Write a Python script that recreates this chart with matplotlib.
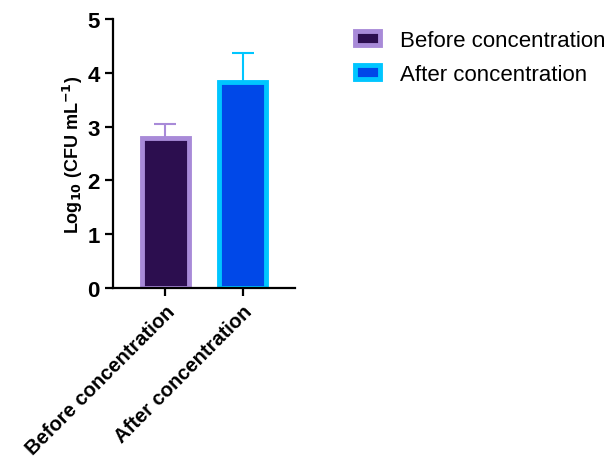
import matplotlib.pyplot as plt
import numpy as np

plt.rcParams['font.family'] = ['Liberation Sans', 'DejaVu Sans']

groups = ['Before concentration', 'After concentration']
means = [2.78, 3.83]
errs = [0.26, 0.53]
faces = ['#2c0e4f', '#0048e8']
edges = ['#a88ad8', '#00c6ff']

fig = plt.figure(figsize=(6.07, 4.64), dpi=100)
ax = fig.add_axes([0.186, 0.377, 0.30, 0.58])

x = np.arange(len(groups))
for i in range(len(groups)):
    ax.errorbar(x[i], means[i], yerr=[[0], [errs[i]]], color=edges[i],
                capsize=8, elinewidth=1.5, capthick=1.5, zorder=1)
    ax.bar(x[i], means[i], width=0.60, color=faces[i], edgecolor=edges[i],
           linewidth=3.5, label=groups[i], zorder=2)

ax.set_xlim(-0.68, 1.68)
ax.set_ylim(0, 5)
ax.set_yticks([0, 1, 2, 3, 4, 5])
ax.set_xticks(x)
ax.set_xticklabels(groups, rotation=45, ha='right', rotation_mode='anchor',
                   fontsize=14.5, fontweight='bold')
for lab in ax.get_yticklabels():
    lab.set_fontsize(16)
    lab.set_fontweight('bold')
ax.set_ylabel('Log$_{\\mathbf{10}}$ (CFU mL$^{\\mathbf{-1}}$)', fontsize=13,
              fontweight='bold', labelpad=2)
for s in ['top', 'right']:
    ax.spines[s].set_visible(False)
for s in ['left', 'bottom']:
    ax.spines[s].set_linewidth(1.6)
ax.tick_params(width=1.6, length=6)

ax.legend(loc='upper left', bbox_to_anchor=(1.33, 0.96), frameon=False,
          fontsize=16, handlelength=1.1, handleheight=0.55, labelspacing=0.6,
          handletextpad=0.9, borderaxespad=0, borderpad=0)

fig.savefig('out.png', dpi=100)
